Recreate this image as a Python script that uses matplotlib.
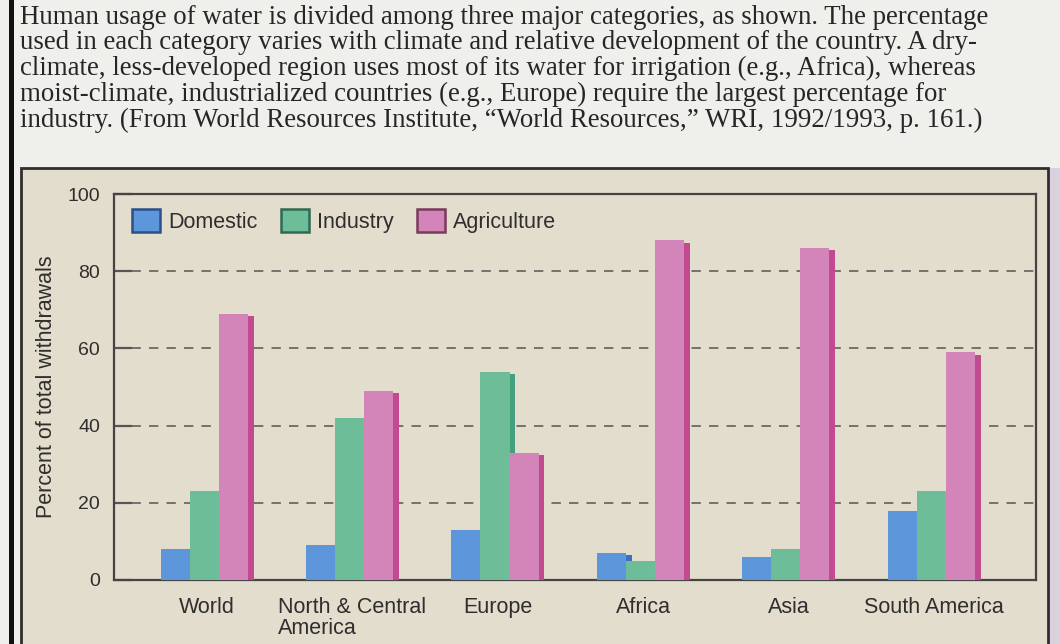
import matplotlib
matplotlib.use('Agg')
import matplotlib.pyplot as plt
import matplotlib.patches as mpatches
import numpy as np

# --- data ---
regions = ['World', 'North & Central\nAmerica', 'Europe', 'Africa', 'Asia', 'South America']
domestic = [8, 9, 13, 7, 6, 18]
industry = [23, 42, 54, 5, 8, 23]
agriculture = [69, 49, 33, 88, 86, 59]
series_names = ['Domestic', 'Industry', 'Agriculture']
yticks = [0, 20, 40, 60, 80, 100]

caption_lines = [
    'Human usage of water is divided among three major categories, as shown. The percentage',
    'used in each category varies with climate and relative development of the country. A dry-',
    'climate, less-developed region uses most of its water for irrigation (e.g., Africa), whereas',
    'moist-climate, industrialized countries (e.g., Europe) require the largest percentage for',
    'industry. (From World Resources Institute, \u201cWorld Resources,\u201d WRI, 1992/1993, p. 161.)',
]

face_colors = ['#5e96dc', '#6dbd99', '#d384b9']
side_colors = ['#3e6fc2', '#45a07d', '#c24a90']
edge_colors = ['#2c4f88', '#2f6a50', '#7b3a5d']
text_color = '#2e2e2e'

W, H = 1060, 644
fig = plt.figure(figsize=(W / 100, H / 100), dpi=100)
fig.patch.set_facecolor('#efefec')

# page bits: black edge on the left, beige panel behind the chart
fig.add_artist(mpatches.Rectangle((1048 / W, 0), 12 / W, 1 - 168 / H, transform=fig.transFigure,
                                  facecolor='#d9d2de', edgecolor='none', zorder=0))
fig.add_artist(mpatches.Rectangle((21 / W, -0.01), (1048 - 21) / W, 1.01 - 168 / H,
                                  transform=fig.transFigure, facecolor='#e3ddcd',
                                  edgecolor='#2e2e2e', lw=2, zorder=0))
fig.add_artist(mpatches.Rectangle((9 / W, 0), 5 / W, 1, transform=fig.transFigure,
                                  facecolor='#111111', edgecolor='none', zorder=0))

# caption above the chart
for k, line in enumerate(caption_lines):
    fig.text(20 / W, 1 - (17 + k * 25.8) / H, line, family='Liberation Serif',
             fontsize=19.4, color='#262626', va='center', ha='left')

ax = fig.add_axes([114 / W, 1 - 580 / H, (1036 - 114) / W, (580 - 194) / H])
ax.set_facecolor('none')

x = np.arange(len(regions))
bw = 0.2
side = 0.04
all_vals = [domestic, industry, agriculture]
for i, vals in enumerate(all_vals):
    left = x - 0.3 + side / 2 + i * bw
    vals = np.array(vals, dtype=float)
    ax.bar(left - side, vals, width=bw, align='edge', color=face_colors[i],
           edgecolor='none', zorder=3 + 2 * i)
    ax.bar(left + bw - side, vals - 0.6, width=side, align='edge', color=side_colors[i],
           edgecolor='none', zorder=4 + 2 * i)

ax.set_xlim(-0.64, 5.70)
ax.set_ylim(0, 100)
ax.set_yticks(yticks)
ax.yaxis.grid(True, ls=(0, (4.8, 4.2)), color='#72726e', lw=1.4)
ax.set_axisbelow(True)

for sp in ax.spines.values():
    sp.set_color('#444444')
    sp.set_linewidth(1.6)

ax.tick_params(axis='y', direction='in', length=13, width=1.6, color='#555555',
               labelsize=14, labelcolor=text_color, pad=10)
ax.set_yticklabels([str(t) for t in yticks], family='Liberation Sans')
ax.set_xticks(x)
ax.set_xticklabels(regions, family='Liberation Sans', fontsize=15.5, color=text_color,
                   linespacing=1.05)
for lbl in ax.get_xticklabels():
    lbl.set_multialignment('left')
ax.tick_params(axis='x', length=0, pad=12)

ax.set_ylabel('Percent of total withdrawals', family='Liberation Sans', fontsize=15.5,
              color=text_color)
ax.yaxis.set_label_coords(-0.062, 0.5)

handles = [mpatches.Patch(facecolor=face_colors[i], edgecolor=edge_colors[i], lw=1.8,
                          label=series_names[i]) for i in range(3)]
ax.legend(handles=handles, ncol=3, loc='upper left', bbox_to_anchor=(0.0195, 0.962),
          frameon=False, prop={'family': 'Liberation Sans', 'size': 15.5},
          labelcolor=text_color, handlelength=1.3, handleheight=1.3,
          handletextpad=0.37, columnspacing=1.1, borderaxespad=0, borderpad=0)

fig.savefig('out.png', dpi=100, facecolor=fig.get_facecolor())
